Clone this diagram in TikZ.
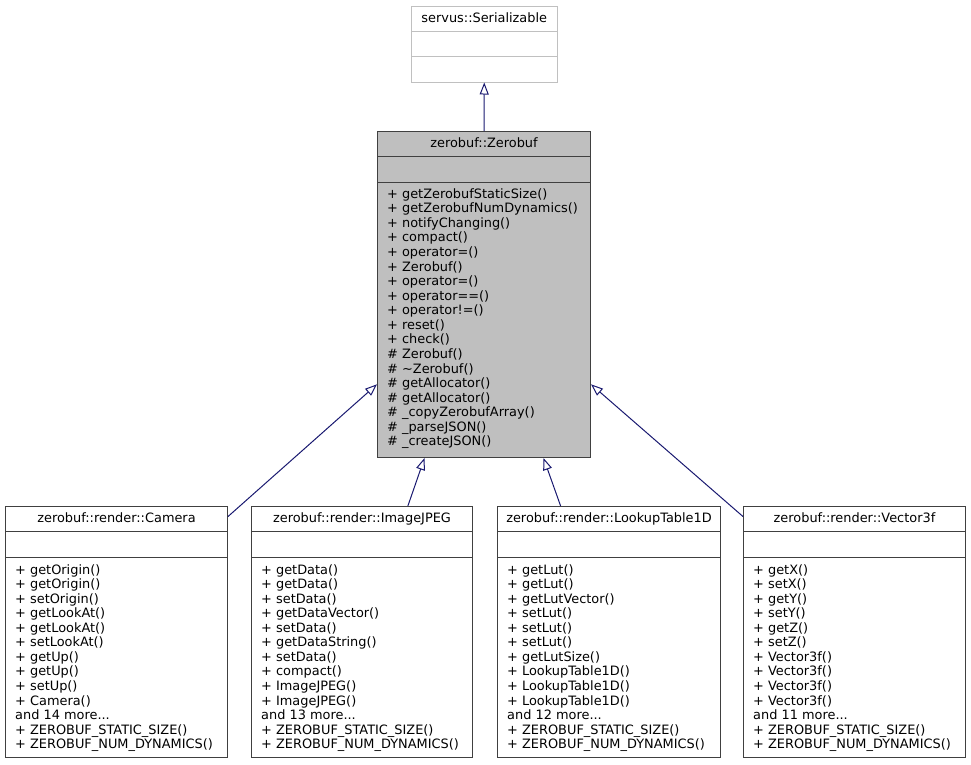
\documentclass[tikz,border=0pt]{standalone}
\usepackage{fontspec}
\setmainfont{DejaVu Sans}
\usepackage{tikz}
\usetikzlibrary{arrows.meta}
\definecolor{edgeblue}{HTML}{191970}
\definecolor{zbgray}{HTML}{BFBFBF}
\definecolor{framegray}{HTML}{404040}
\definecolor{lightframe}{HTML}{C0C0C0}
\tikzset{
  classbox/.style={draw=framegray, line width=1pt, anchor=north west, inner sep=0pt},
  classtitle/.style={anchor=base, inner sep=0pt, font=\fontsize{12.9}{14.56}\selectfont},
  classmembers/.style={anchor=base west, inner sep=0pt, font=\fontsize{12.9}{14.56}\selectfont},
  inherit/.style={draw=edgeblue, line width=1pt, -{Triangle[open, fill=white, length=12pt, width=9pt]}},
}

\begin{document}
\begin{tikzpicture}[x=1pt,y=-1pt]
\useasboundingbox (0,0) rectangle (971,764);

% the two base classes
\node[classbox, draw=lightframe, minimum width=145.5pt, minimum height=75.5pt] (serializable) at (411,6) {};
\draw[lightframe, line width=1pt] ([yshift=-25pt]serializable.north west) -- ([yshift=-25pt]serializable.north east);
\draw[lightframe, line width=1pt] ([yshift=-50.5pt]serializable.north west) -- ([yshift=-50.5pt]serializable.north east);
\node[classtitle] (serializable-title) at ([yshift=-16pt]serializable.north) {servus::Serializable};

\node[classbox, fill=zbgray, minimum width=213pt, minimum height=326pt] (zerobuf) at (377,131) {};
\draw[framegray, line width=1pt] ([yshift=-25pt]zerobuf.north west) -- ([yshift=-25pt]zerobuf.north east);
\draw[framegray, line width=1pt] ([yshift=-51pt]zerobuf.north west) -- ([yshift=-51pt]zerobuf.north east);
\node[classtitle] (zerobuf-title) at ([yshift=-16pt]zerobuf.north) {zerobuf::Zerobuf};
\node[classmembers] (zerobuf-members) at ([xshift=10pt,yshift=-67.3pt]zerobuf.north west) {\parbox[t]{205pt}{%
+ getZerobufStaticSize()\\
+ getZerobufNumDynamics()\\
+ notifyChanging()\\
+ compact()\\
+ operator=()\\
+ Zerobuf()\\
+ operator=()\\
+ operator==()\\
+ operator!=()\\
+ reset()\\
+ check()\\
\# Zerobuf()\\
\# \textasciitilde Zerobuf()\\
\# getAllocator()\\
\# getAllocator()\\
\# \_copyZerobufArray()\\
\# \_parseJSON()\\
\# \_createJSON()}};

% derived classes
\node[classbox, minimum width=222pt, minimum height=251pt] (camera) at (5,506) {};
\draw[framegray, line width=1pt] ([yshift=-25.5pt]camera.north west) -- ([yshift=-25.5pt]camera.north east);
\draw[framegray, line width=1pt] ([yshift=-51pt]camera.north west) -- ([yshift=-51pt]camera.north east);
\node[classtitle] (camera-title) at ([yshift=-16pt]camera.north) {zerobuf::render::Camera};
\node[classmembers] (camera-members) at ([xshift=10pt,yshift=-68pt]camera.north west) {\parbox[t]{205pt}{%
+ getOrigin()\\
+ getOrigin()\\
+ setOrigin()\\
+ getLookAt()\\
+ getLookAt()\\
+ setLookAt()\\
+ getUp()\\
+ getUp()\\
+ setUp()\\
+ Camera()\\
and 14 more...\\
+ ZEROBUF\_STATIC\_SIZE()\\
+ ZEROBUF\_NUM\_DYNAMICS()}};

\node[classbox, minimum width=221pt, minimum height=251pt] (imagejpeg) at (251,506) {};
\draw[framegray, line width=1pt] ([yshift=-25.5pt]imagejpeg.north west) -- ([yshift=-25.5pt]imagejpeg.north east);
\draw[framegray, line width=1pt] ([yshift=-51pt]imagejpeg.north west) -- ([yshift=-51pt]imagejpeg.north east);
\node[classtitle] (imagejpeg-title) at ([yshift=-16pt]imagejpeg.north) {zerobuf::render::ImageJPEG};
\node[classmembers] (imagejpeg-members) at ([xshift=10pt,yshift=-68pt]imagejpeg.north west) {\parbox[t]{205pt}{%
+ getData()\\
+ getData()\\
+ setData()\\
+ getDataVector()\\
+ setData()\\
+ getDataString()\\
+ setData()\\
+ compact()\\
+ ImageJPEG()\\
+ ImageJPEG()\\
and 13 more...\\
+ ZEROBUF\_STATIC\_SIZE()\\
+ ZEROBUF\_NUM\_DYNAMICS()}};

\node[classbox, minimum width=223pt, minimum height=251pt] (lookuptable) at (497,506) {};
\draw[framegray, line width=1pt] ([yshift=-25.5pt]lookuptable.north west) -- ([yshift=-25.5pt]lookuptable.north east);
\draw[framegray, line width=1pt] ([yshift=-51pt]lookuptable.north west) -- ([yshift=-51pt]lookuptable.north east);
\node[classtitle] (lookuptable-title) at ([yshift=-16pt]lookuptable.north) {zerobuf::render::LookupTable1D};
\node[classmembers] (lookuptable-members) at ([xshift=10pt,yshift=-68pt]lookuptable.north west) {\parbox[t]{205pt}{%
+ getLut()\\
+ getLut()\\
+ getLutVector()\\
+ setLut()\\
+ setLut()\\
+ setLut()\\
+ getLutSize()\\
+ LookupTable1D()\\
+ LookupTable1D()\\
+ LookupTable1D()\\
and 12 more...\\
+ ZEROBUF\_STATIC\_SIZE()\\
+ ZEROBUF\_NUM\_DYNAMICS()}};

\node[classbox, minimum width=222pt, minimum height=251pt] (vector) at (743,506) {};
\draw[framegray, line width=1pt] ([yshift=-25.5pt]vector.north west) -- ([yshift=-25.5pt]vector.north east);
\draw[framegray, line width=1pt] ([yshift=-51pt]vector.north west) -- ([yshift=-51pt]vector.north east);
\node[classtitle] (vector-title) at ([yshift=-16pt]vector.north) {zerobuf::render::Vector3f};
\node[classmembers] (vector-members) at ([xshift=10pt,yshift=-68pt]vector.north west) {\parbox[t]{205pt}{%
+ getX()\\
+ setX()\\
+ getY()\\
+ setY()\\
+ getZ()\\
+ setZ()\\
+ Vector3f()\\
+ Vector3f()\\
+ Vector3f()\\
+ Vector3f()\\
and 11 more...\\
+ ZEROBUF\_STATIC\_SIZE()\\
+ ZEROBUF\_NUM\_DYNAMICS()}};

% inheritance
\draw[inherit] (zerobuf.north) -- (serializable.south);
\draw[inherit] (camera.46) -- (zerobuf.220);
\draw[inherit] (imagejpeg.70) -- (zerobuf.250);
\draw[inherit] (lookuptable.111) -- (zerobuf.290);
\draw[inherit] (vector.134) -- (zerobuf.320);
\end{tikzpicture}
\end{document}
